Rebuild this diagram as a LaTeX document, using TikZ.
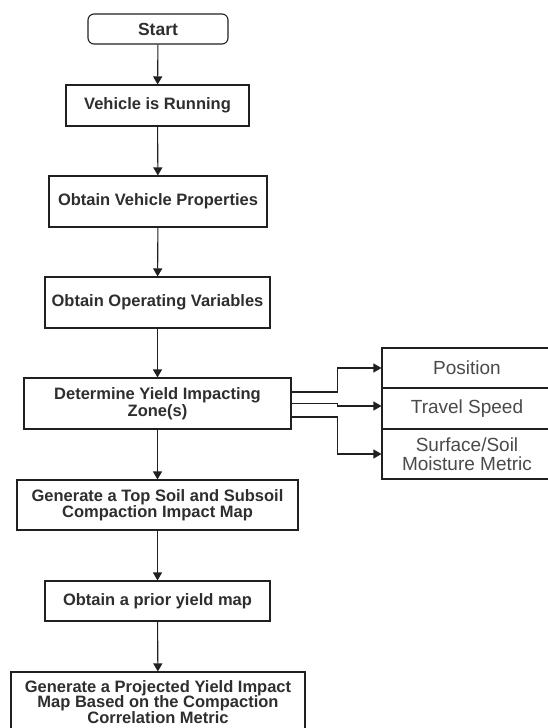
\documentclass[tikz,border=0pt]{standalone}
\usepackage{fontspec}
\setmainfont{Liberation Sans}
\usetikzlibrary{arrows.meta}
\definecolor{edge}{HTML}{202020}
\definecolor{txt}{HTML}{2E2E2E}
\definecolor{txtl}{HTML}{4A4A4A}
\tikzset{
  box/.style={draw=edge, line width=1.1pt, fill=white, inner sep=0pt, align=center,
    text=txt, font=\fontsize{16.5}{17}\selectfont\bfseries},
  sidebox/.style={draw=edge, line width=1.1pt, fill=white, inner sep=0pt, align=center,
    text=txtl, font=\fontsize{19}{19.5}\selectfont, minimum width=170pt},
  arr/.style={draw=edge, line width=1.1pt, -{Triangle[width=9pt,length=8pt]}},
}
\begin{document}
\begin{tikzpicture}[x=1pt,y=-1pt]
\useasboundingbox (0,0) rectangle (548,728);
\clip (0,0) rectangle (548,728);
\fill[white] (0,0) rectangle (548,728);

\node[box, rounded corners=6pt, minimum width=140pt, minimum height=30pt,
  font=\fontsize{17.5}{18}\selectfont\bfseries] (start) at (158,29) {Start};
\node[box, minimum width=183pt, minimum height=41pt] (veh) at (157.5,105.5) {Vehicle is Running};
\node[box, minimum width=218pt, minimum height=51pt] (prop) at (158,201.5) {Obtain Vehicle Properties};
\node[box, minimum width=225pt, minimum height=51pt] (oper) at (157.5,302.5) {Obtain Operating Variables};
\node[box, minimum width=267pt, minimum height=51pt] (det) at (157.5,403.5) {Determine Yield Impacting\\Zone(s)};
\node[box, minimum width=281pt, minimum height=50pt,
  font=\fontsize{16.5}{15.5}\selectfont\bfseries] (gen) at (157.5,505) {Generate a Top Soil and Subsoil\\Compaction Impact Map};
\node[box, minimum width=225pt, minimum height=40pt] (prior) at (157.5,601) {Obtain a prior yield map};
\node[box, minimum width=294pt, minimum height=60pt,
  font=\fontsize{16.5}{15.5}\selectfont\bfseries] (final) at (158,702) {Generate a Projected Yield Impact\\Map Based on the Compaction\\Correlation Metric};

\node[sidebox, minimum height=40pt] (pos) at (467,368) {Position};
\node[sidebox, minimum height=41pt] (trav) at (467,408.5) {Travel Speed};
\node[sidebox, minimum height=50pt] (surf) at (467,454) {Surface/Soil\\Moisture Metric};

\draw[arr] (start) -- (veh);
\draw[arr] (veh) -- (prop);
\draw[arr] (prop) -- (oper);
\draw[arr] (oper) -- (det);
\draw[arr] (det) -- (gen);
\draw[arr] (gen) -- (prior);
\draw[arr] (prior) -- (final);

\draw[arr] ([yshift=11.5pt]det.east) -- ++(46,0) |- (pos.west);
\draw[arr] (det.east) -- ++(46,0) |- ([yshift=2.5pt]trav.west);
\draw[arr] ([yshift=-13.5pt]det.east) -- ++(46,0) |- (surf.west);
\end{tikzpicture}
\end{document}
